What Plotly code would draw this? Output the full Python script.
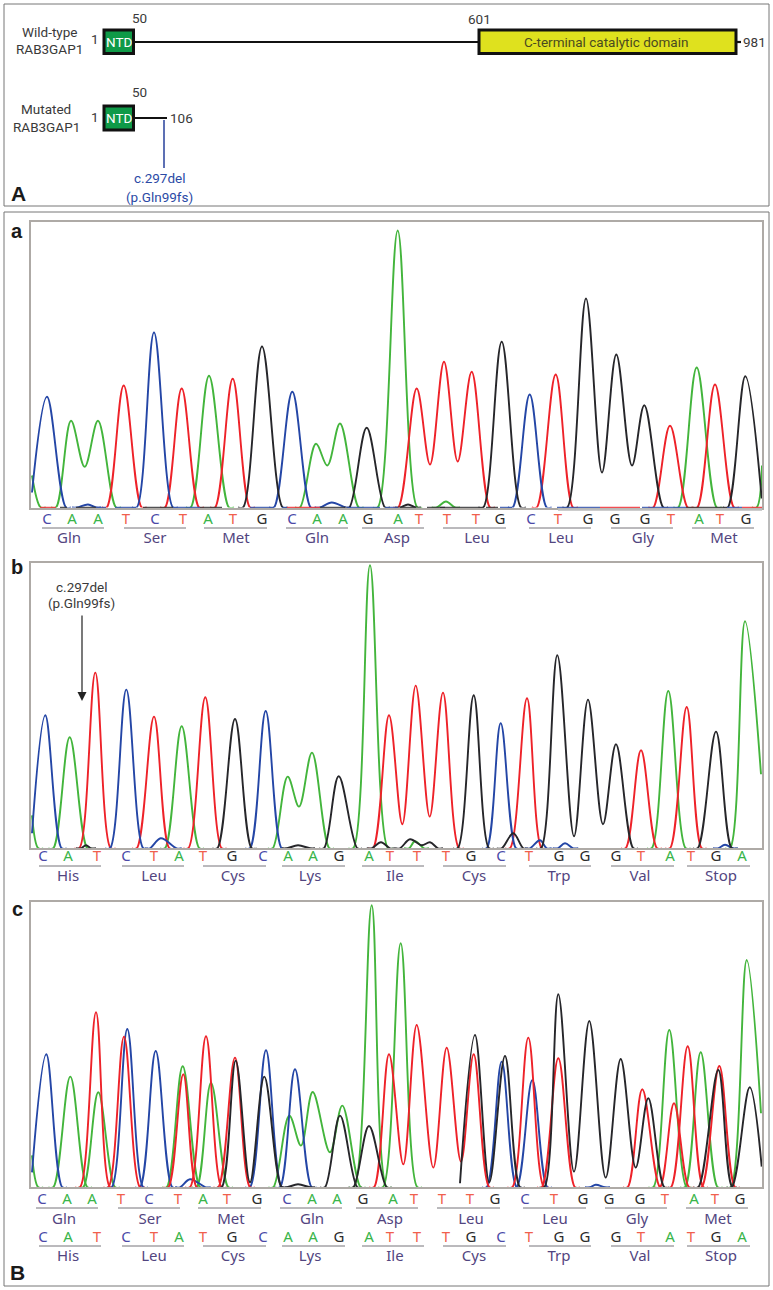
import plotly.graph_objects as go

W, H = 773, 1290
N = None
GREEN, RED, BLUE, BLACK = "#43b53c", "#ee2229", "#2446a6", "#26262a"

# ---- chromatogram traces: scan position / signal height
A_G_X = [32,40.7,N,56,71,84.7,98,116,N,190.7,209,229,N,300,316,327.3,340,358.7,N,377.7,397.7,417.3,N,436.7,446,455,N,678.3,696.7,716.7,N,756.7,762]
A_G_Y = [32,0,N,0,86.7,40.7,86.7,0,N,0,131.7,0,N,0,63.7,42,84,0,N,0,277,0,N,0,6,0,N,0,140,0,N,0,42]
A_R_X = [106.7,123.7,141.7,N,165,181.7,199,N,215,232.7,250,N,398.3,416.7,430,444,457.7,471.7,490,N,536.7,555.7,573,N,653.3,670,687.7,N,697.3,715,734]
A_R_Y = [0,122,0,N,0,119,0,N,0,128.7,0,N,0,119,43,145.7,46,135.7,0,N,0,133,0,N,0,81.7,0,N,0,123,0]
A_B_X = [32,47,66,N,77,88,96,N,136.7,154,173,N,274,292.3,310.7,N,320,331.7,346,N,512.7,529.7,546.7]
A_B_Y = [15,110.7,0,N,0,3,0,N,0,175,0,N,0,115.7,0,N,0,5,0,N,0,113,0]
A_K_X = [243,262,282.7,N,349.3,366.7,385,N,483.3,501.7,521,N,567.3,586,602,616.3,632,644.3,663.3,N,727.7,745.3,761.7,N,400,408,416]
A_K_Y = [0,161,0,N,0,79.7,0,N,0,165.7,0,N,0,209,35,153,42,102.3,0,N,0,131.3,9,N,0,3,0]

B_G_X = [32,38.3,N,53.3,69.7,87.3,N,165,181.7,199.3,N,272.7,287.7,299,312,329.3,N,353.3,370,388,N,409,415,424,N,651.7,668.3,685.7,N,730,745,761]
B_G_Y = [33,0,N,0,111,0,N,0,122,0,N,0,71.7,41.7,95.7,0,N,0,283,0,N,0,7,0,N,0,157.3,0,N,0,227,74]
B_R_X = [79.3,95.3,110.7,N,136.7,154,169.3,N,188.3,205.3,221.7,N,373,389,402.3,415.7,429.7,443,459,N,510,527,541.7,N,625.7,641,657,N,670,686.7,701.7]
B_R_Y = [0,175.7,0,N,0,131.7,0,N,0,151,0,N,0,133,24,162.7,31.7,155.7,0,N,0,150,0,N,0,98,0,N,0,141.3,0]
B_B_X = [32,45.3,61.7,N,110,126.3,143.3,N,150,160.7,176.7,N,250,265.7,281.7,N,486.7,500.7,516,N,530,540,546.7,N,557.7,565,573.3,N,718,725,733]
B_B_Y = [15,133,0,N,0,158.7,0,N,0,10,0,N,0,137.3,0,N,0,125,0,N,0,8,0,N,0,5,0,N,0,3.5,0]
B_K_X = [81,86,91,N,217.3,235,251.7,N,287,298,310,N,324,338.7,357.3,N,371.7,381,390,N,400,410,421.7,430,438,N,457.7,473.7,489,N,501.7,513.3,523.3,N,541,557.3,574,588,603,616,633.3,N,697.7,716,731.7]
B_K_Y = [0,3,0,N,0,129.3,0,N,0,3,0,N,0,72,0,N,0,6,0,N,0,9,3,6,0,N,0,153,0,N,0,15,0,N,0,193,12,148.7,24,104,0,N,0,116.7,0]

C_G_X = [32,38.3,N,53.3,70.3,87.3,N,83.3,98.3,115,N,166.7,182.7,200,N,196.7,211,228.3,N,273.3,289.3,301,312.7,330,342.3,360.7,N,354,371.7,386.7,N,383,400.7,417.3,N,653.3,669.3,686.7,N,685,700.7,717.7,N,730.7,746.7,761]
C_G_Y = [32,0,N,0,110.7,0,N,0,95,0,N,0,121,0,N,0,104.7,0,N,0,71.7,41.7,95.3,35,81.7,0,N,0,282,0,N,0,244,0,N,0,157.3,0,N,0,135,0,N,0,227.3,74]
C_R_X = [80,96,110,N,108.3,124,140,N,168.3,183.3,196.7,N,190,206,221.7,N,218.3,235,250,N,374,389,403.3,416.7,433.3,446.7,461,473.7,489.3,N,512.3,528.3,544,N,541.7,558.3,575,N,627.7,642.3,660,N,660,674,689,N,671,687.7,703.3,N,701.7,719.3,735]
C_R_Y = [0,175,0,N,0,150.7,0,N,0,113,0,N,0,151,0,N,0,129.7,0,N,0,133,23,162.3,19.7,139.7,25.7,133,0,N,0,149.7,0,N,0,129,0,N,0,98,0,N,0,84,0,N,0,141,0,N,0,121.3,0]
C_B_X = [32,46.3,62.3,N,111.7,127.3,143.3,N,140,155.7,172.3,N,180,190,205.7,N,250,266,281.7,N,280,295,311.7,N,486.7,501.7,516.7,N,516.7,532.3,547.3,N,590,595.7,605]
C_B_Y = [15,133,0,N,0,158.3,0,N,0,136.3,0,N,0,8,0,N,0,137,0,N,0,118,0,N,0,125.7,0,N,0,107.3,0,N,0,2.5,0]
C_K_X = [221.7,235.7,250,264.3,281.7,N,287,298,310,N,325,340,357.3,N,353.3,369,386.7,N,460,475,489.3,505,520,N,544.3,558.3,574,589.3,605.7,620.7,635.7,648.3,664.3,N,698.3,718.3,732.3,N,731.7,749.7,761.7]
C_K_Y = [0,126.7,5,110.7,0,N,0,3,0,N,0,71.7,0,N,0,61.3,0,N,4,152.3,5,131.3,0,N,0,193,15.7,166.3,9.7,128.3,19.7,89,0,N,0,117.3,0,N,0,100,20.7]

# baseline runs of panel a, by colour
A_BASE_K = [(60,67),(76,96),(143,173),(200,222),(320,345),(400,416),(427,445),(440,484),(486,498),(686,727)]
A_BASE_B = [(96,106),(115,136),(173,200),(250,274),(282,287),(347,380),(385,398),(500,512),(557,600),(642,686),(727,742)]
A_BASE_R = [(40,56),(287,320),(742,762),(600,640)]

# ---- sequence labels
A_SEQ = list("CAATCTATGCAAGATTTGCTGGGTATG")
A_SEQ_X = [47,72,98,126,155,183,208,233,262,292,317,343,368,398,419,447,476,500,531,558,588,615,645,671,699,720,746]
A_AA = ["Gln","Ser","Met","Gln","Asp","Leu","Leu","Gly","Met"]
A_AA_X = [69,155,236,317,397,477,561,643,724]
A_BAR_L = [42,124,204,286,362,443,529,611,692]
A_BAR_R = [104,186,267,348,424,506,591,673,754]

B_SEQ = list("CATCTATGCAAGATTTGCTGGGTATGA")
B_SEQ_X = [43,68,97,126,154,179,203,232,263,288,313,339,369,390,417,446,471,501,529,559,585,616,641,670,691,716,742]
B_AA = ["His","Leu","Cys","Lys","Ile","Cys","Trp","Val","Stop"]
B_AA_X = [68,154,233,310,395,474,559,640,721]
B_BAR_L = [39,122,203,282,362,443,529,611,687]
B_BAR_R = [101,184,266,345,424,506,591,674,750]

C_SEQ_X = [42,67,92,121,149,178,203,227,257,287,312,337,363,393,414,442,470,495,525,554,583,609,640,665,694,715,740]
C_AA_X = [64,150,231,312,390,471,555,637,718]
C_BAR_L = [36,118,198,280,356,437,523,605,686]
C_BAR_R = [98,180,261,342,418,500,586,667,748]

BASE_COLORS = {"A": "#39b54a", "T": "#f0604d", "C": "#4a4aa8", "G": "#2b2b2b"}
AA_COLOR = "#52457f"
UI = "Noto Sans"
NARROW = "Roboto"


def with_flat_feet(xs, ys, run=5):
    """Let each peak that ends on the baseline run along the baseline before rising."""
    out_x, out_y, seg_x, seg_y = [], [], [], []
    for x, y in list(zip(xs, ys)) + [(None, None)]:
        if x is None:
            if seg_y[0] == 0:
                seg_x.insert(0, seg_x[0] - run); seg_y.insert(0, 0)
            if seg_y[-1] == 0:
                seg_x.append(seg_x[-1] + run); seg_y.append(0)
            out_x += seg_x + [None]; out_y += seg_y + [None]
            seg_x, seg_y = [], []
        else:
            seg_x.append(x); seg_y.append(y)
    return out_x[:-1], out_y[:-1]


fig = go.Figure()

PANELS = [
    ("2", 222, 507.5, [(A_G_X,A_G_Y,GREEN),(A_R_X,A_R_Y,RED),(A_B_X,A_B_Y,BLUE),(A_K_X,A_K_Y,BLACK)]),
    ("3", 563, 848.3, [(B_G_X,B_G_Y,GREEN),(B_R_X,B_R_Y,RED),(B_B_X,B_B_Y,BLUE),(B_K_X,B_K_Y,BLACK)]),
    ("4", 902, 1187.3, [(C_G_X,C_G_Y,GREEN),(C_B_X,C_B_Y,BLUE),(C_R_X,C_R_Y,RED),(C_K_X,C_K_Y,BLACK)]),
]
layout = dict(
    width=W, height=H, margin=dict(l=0, r=0, t=0, b=0, pad=0),
    paper_bgcolor="white", plot_bgcolor="rgba(0,0,0,0)", showlegend=False,
    xaxis=dict(domain=[0, 1], range=[0, W], visible=False, fixedrange=True),
    yaxis=dict(domain=[0, 1], range=[H, 0], visible=False, fixedrange=True),
)
for sid, top, base, series in PANELS:
    layout["xaxis" + sid] = dict(domain=[31/W, 762/W], range=[31, 762], anchor="y" + sid,
        showgrid=False, zeroline=False, showticklabels=False, ticks="",
        showline=True, mirror=True, linecolor="#aeaaa6", linewidth=1.5, fixedrange=True)
    layout["yaxis" + sid] = dict(domain=[1-base/H, 1-top/H], range=[0, base-top], anchor="x" + sid,
        showgrid=False, zeroline=False, showticklabels=False, ticks="",
        showline=True, mirror=True, linecolor="#aeaaa6", linewidth=1.5, fixedrange=True)
    for xs, ys, col in series:
        fx, fy = with_flat_feet(xs, ys)
        fig.add_trace(go.Scatter(x=fx, y=fy, mode="lines", xaxis="x"+sid, yaxis="y"+sid,
            line=dict(color=col, width=1.9, shape="spline", smoothing=1.0), hoverinfo="skip"))

def seq_row(xs, seq, y):
    fig.add_trace(go.Scatter(x=xs, y=[y]*len(xs), text=seq, mode="text", textposition="middle center",
        textfont=dict(family=UI, size=15, color=[BASE_COLORS[s] for s in seq]), hoverinfo="skip"))

def aa_row(xs, names, y):
    fig.add_trace(go.Scatter(x=xs, y=[y]*len(xs), text=names, mode="text", textposition="middle center",
        textfont=dict(family=UI, size=15, color=AA_COLOR), hoverinfo="skip"))

shapes = []
def bars(left, right, y):
    for a, b in zip(left, right):
        shapes.append(dict(type="line", xref="x", yref="y", x0=a, x1=b, y0=y, y1=y,
                           line=dict(color="#77757a", width=1)))

seq_row(A_SEQ_X, A_SEQ, 520); bars(A_BAR_L, A_BAR_R, 528); aa_row(A_AA_X, A_AA, 539)
seq_row(B_SEQ_X, B_SEQ, 857); bars(B_BAR_L, B_BAR_R, 866); aa_row(B_AA_X, B_AA, 877)
seq_row(C_SEQ_X, A_SEQ, 1200); bars(C_BAR_L, C_BAR_R, 1208); aa_row(C_AA_X, A_AA, 1220)
seq_row(B_SEQ_X, B_SEQ, 1238); bars(B_BAR_L, B_BAR_R, 1246); aa_row(B_AA_X, B_AA, 1257)

def rect(x0, y0, x1, y1, fill="rgba(0,0,0,0)", line="#777777", w=1):
    shapes.append(dict(type="rect", xref="x", yref="y", x0=x0, y0=y0, x1=x1, y1=y1,
                       fillcolor=fill, line=dict(color=line, width=w)))
def seg(x0, y0, x1, y1, col="#111111", w=2):
    shapes.append(dict(type="line", xref="x", yref="y", x0=x0, y0=y0, x1=x1, y1=y1,
                       line=dict(color=col, width=w)))

rect(4, 4, 769, 206)
rect(4, 212, 769, 1286)
seg(134, 42, 478, 42, w=2.2)
seg(737, 42, 741, 42, w=2.2)
seg(134, 118, 167, 118, w=2.2)
seg(164, 120, 164, 168, col="#27409b", w=1.5)
rect(104, 30, 133.5, 53.5, fill="#0f9a48", line="#111111", w=3)
rect(104, 106, 133.5, 130, fill="#0f9a48", line="#111111", w=3)
rect(479, 30, 736, 53.5, fill="#dfe11e", line="#111111", w=3)
seg(558, 509.5, 762, 509.5, col="#bdbdbd", w=2.5)
for runs, col in [(A_BASE_K, BLACK), (A_BASE_B, BLUE), (A_BASE_R, RED)]:
    for a, b in runs:
        seg(a, 507.3, b, 507.3, col=col, w=1)
layout["shapes"] = shapes

notes = []
def note(x, y, text, size=13.5, color="#3a3a3a", family=NARROW, bold=False):
    notes.append(dict(xref="x", yref="y", x=x, y=y, text=("<b>%s</b>" % text) if bold else text,
                      showarrow=False, xanchor="center", yanchor="middle",
                      font=dict(family=family, size=size, color=color)))

note(49, 32, "Wild-type"); note(49, 49, "RAB3GAP1")
note(95, 39, "1"); note(139.5, 18, "50"); note(479, 19, "601"); note(754, 42, "981")
note(118.5, 42, "NTD", color="white")
note(606, 42, "C-terminal catalytic domain", color="#4a4a20")
note(46, 109, "Mutated"); note(46, 127, "RAB3GAP1")
note(95, 117, "1"); note(139.5, 92, "50"); note(181, 118, "106")
note(118.5, 118, "NTD", color="white")
note(159, 178, "c.297del", color="#2b4aa5"); note(159, 197, "(p.Gln99fs)", color="#2b4aa5")
note(81, 587, "c.297del"); note(81, 603, "(p.Gln99fs)")
for x, y, t, s in [(18, 193, "A", 21), (17, 231, "a", 20), (17, 567, "b", 20), (17, 909, "c", 20), (17, 1272, "B", 21)]:
    note(x, y, t, size=s, color="#1a1a1a", family="Liberation Sans", bold=True)
notes.append(dict(xref="x", yref="y", axref="x", ayref="y", x=82, y=701, ax=82, ay=614, text="",
                  showarrow=True, arrowhead=2, arrowsize=1.5, arrowwidth=1.2, arrowcolor="#222222"))
layout["annotations"] = notes

fig.update_layout(**layout)
fig.write_html("out.html", config={"displayModeBar": False},
               post_script="document.body.style.margin='0';document.documentElement.style.overflow='hidden';")
